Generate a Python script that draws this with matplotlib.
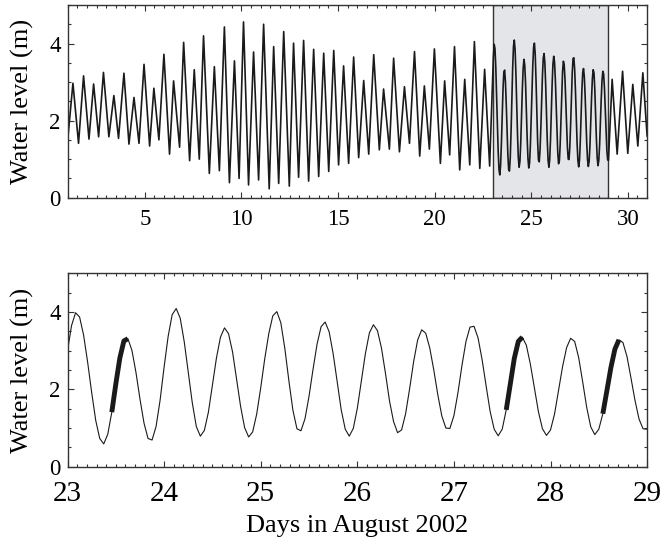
import numpy as np
import matplotlib
matplotlib.use('Agg')
import matplotlib.pyplot as plt
from matplotlib.ticker import MultipleLocator

plt.rcParams['font.family'] = ['Liberation Serif', 'DejaVu Serif']

# Highs and lows, 1 to 23 August (day, level in m)
early_days = [1.00, 1.28, 1.57, 1.83, 2.11, 2.35, 2.61, 2.86, 3.14, 3.40,
              3.64, 3.92, 4.18, 4.44, 4.70, 4.96, 5.25, 5.47, 5.73, 5.99,
              6.28, 6.49, 6.80, 7.01, 7.32, 7.56, 7.82, 8.04, 8.34, 8.60,
              8.86, 9.12, 9.38, 9.64, 9.88, 10.11, 10.37, 10.63, 10.89, 11.15,
              11.44, 11.67, 11.93, 12.19, 12.48, 12.70, 12.96, 13.22, 13.48, 13.74,
              14.00, 14.26, 14.52, 14.78, 15.03, 15.29, 15.55, 15.81, 16.07, 16.33,
              16.59, 16.85, 17.14, 17.36, 17.66, 17.88, 18.18, 18.44, 18.70, 18.96,
              19.23, 19.47, 19.73, 19.99, 20.30, 20.52, 20.78, 21.03, 21.30, 21.56,
              21.82, 22.06, 22.34, 22.59, 22.85]
early_levels = [1.45, 2.97, 1.41, 3.16, 1.52, 2.95, 1.58, 3.25, 1.58, 2.65,
                1.54, 3.23, 1.39, 2.60, 1.41, 3.46, 1.34, 2.84, 1.50, 3.72,
                1.13, 3.03, 1.31, 4.03, 0.96, 3.32, 1.00, 4.20, 0.63, 3.40,
                0.70, 4.43, 0.39, 3.55, 0.50, 4.56, 0.33, 3.78, 0.46, 4.50,
                0.23, 3.92, 0.37, 4.31, 0.30, 4.01, 0.53, 4.08, 0.43, 3.85,
                0.55, 3.75, 0.68, 3.82, 0.85, 3.42, 0.89, 3.65, 1.04, 3.04,
                1.13, 3.71, 1.24, 2.82, 1.26, 3.62, 1.19, 2.88, 1.41, 3.79,
                1.08, 2.90, 1.26, 3.86, 0.89, 3.03, 1.11, 3.92, 0.72, 3.07,
                0.85, 4.05, 0.76, 3.33, 0.82]

# Hourly levels, 23 August 00:00 to 29 August 00:00 (bottom panel)
zoom_levels = [3.00, 3.65, 3.98, 3.87, 3.40, 2.70, 1.92, 1.20, 0.73, 0.59, 0.84, 1.41,
               2.14, 2.81, 3.25, 3.31, 3.01, 2.44, 1.75, 1.13, 0.73, 0.69, 1.04, 1.72,
               2.58, 3.37, 3.93, 4.09, 3.84, 3.23, 2.44, 1.65, 1.04, 0.79, 0.94, 1.41,
               2.11, 2.81, 3.35, 3.59, 3.44, 2.97, 2.26, 1.56, 1.01, 0.77, 0.90, 1.36,
               2.04, 2.79, 3.44, 3.90, 4.01, 3.72, 3.05, 2.22, 1.46, 0.98, 0.93, 1.24,
               1.82, 2.52, 3.17, 3.62, 3.74, 3.49, 2.92, 2.19, 1.47, 0.97, 0.79, 0.99,
               1.51, 2.22, 2.92, 3.46, 3.67, 3.52, 3.07, 2.41, 1.70, 1.17, 0.88, 0.95,
               1.37, 2.02, 2.72, 3.28, 3.54, 3.45, 3.07, 2.50, 1.86, 1.31, 1.00, 0.99,
               1.32, 1.91, 2.62, 3.24, 3.61, 3.63, 3.33, 2.77, 2.09, 1.43, 0.97, 0.80,
               0.97, 1.47, 2.13, 2.80, 3.24, 3.35, 3.14, 2.65, 2.03, 1.42, 0.98, 0.81,
               0.95, 1.36, 1.97, 2.59, 3.08, 3.32, 3.24, 2.82, 2.19, 1.53, 1.03, 0.83,
               0.97, 1.37, 1.96, 2.56, 3.04, 3.28, 3.21, 2.85, 2.29, 1.71, 1.23, 0.98,
               0.97]
zoom_start = 23.0

# Highs and lows after 29 August
late_days = [29.19, 29.45, 29.73, 30.00, 30.26, 30.52, 30.78, 31.00]
late_levels = [3.07, 1.13, 3.28, 1.15, 2.94, 1.34, 3.24, 1.60]

# Periods drawn with a thick line in the bottom panel
thick_windows = [(23.45, 23.63), (27.53, 27.71), (28.53, 28.73)]

zoom_days = zoom_start + np.arange(len(zoom_levels)) / 24.0
zoom_levels = np.array(zoom_levels)

all_days = np.concatenate([early_days, zoom_days, late_days])
all_levels = np.concatenate([early_levels, zoom_levels, late_levels])

fig = plt.figure(figsize=(6.62, 5.41), dpi=100)
ax1 = fig.add_axes([0.102, 0.6346, 0.8755, 0.3562])
ax2 = fig.add_axes([0.102, 0.1373, 0.8755, 0.3575])

# Top panel: whole month with the zoomed window shaded
ax1.axvspan(23, 29, facecolor='#e4e5e8', edgecolor='#333333', linewidth=1.0, zorder=0)
ax1.plot(all_days, all_levels, color='#1a1a1a', linewidth=1.2,
         solid_joinstyle='round')
ax1.set_xlim(1, 31)
ax1.set_ylim(0, 5)
ax1.xaxis.set_minor_locator(MultipleLocator(0.5))
ax1.set_xticks([5, 10, 15, 20, 25, 30])
ax1.set_ylabel('Water level (m)', fontsize=19, labelpad=11)

# Bottom panel: 23 to 29 August
ax2.plot(zoom_days, zoom_levels, color='#1a1a1a', linewidth=0.8)
for t0, t1 in thick_windows:
    sel = (zoom_days >= t0) & (zoom_days <= t1)
    ax2.plot(zoom_days[sel], zoom_levels[sel], color='#1a1a1a', linewidth=3.5,
             solid_capstyle='butt')
ax2.set_xlim(23, 29)
ax2.set_ylim(0, 5)
ax2.xaxis.set_major_locator(MultipleLocator(1))
ax2.xaxis.set_minor_locator(MultipleLocator(0.1))
ax2.set_ylabel('Water level (m)', fontsize=19, labelpad=11)
ax2.set_xlabel('Days in August 2002', fontsize=19, labelpad=6)

for ax in (ax1, ax2):
    ax.yaxis.set_major_locator(MultipleLocator(2))
    ax.yaxis.set_minor_locator(MultipleLocator(0.5))
    ax.tick_params(which='both', direction='in', top=True, right=True, width=0.8,
                   color='#333333')
    ax.tick_params(which='major', length=4)
    ax.tick_params(which='minor', length=2.2)
    ax.tick_params(axis='y', labelsize=16.5, pad=5)
    for s in ax.spines.values():
        s.set_linewidth(1.0)
        s.set_color('#333333')

ax1.tick_params(axis='x', labelsize=16.5, pad=8)
ax2.tick_params(axis='x', labelsize=21, pad=10)

plt.savefig('out.png', dpi=100)
plt.close()
